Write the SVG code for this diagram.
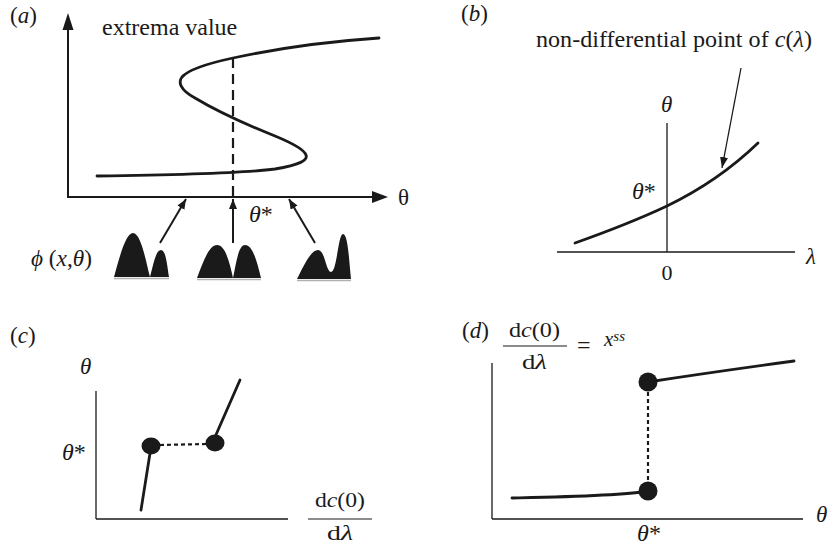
<svg xmlns="http://www.w3.org/2000/svg" width="835" height="546" viewBox="0 0 835 546">
<style>
text{font-family:"Liberation Serif","Times New Roman",serif;fill:#1a1a1a}
.t{font-size:23px}
.i{font-style:italic}
.ax{stroke:#1a1a1a;stroke-width:2;fill:none}
.thin{stroke:#1a1a1a;stroke-width:1.3;fill:none}
.crv{stroke:#1a1a1a;stroke-width:2.8;fill:none;stroke-linecap:round}
.dot{fill:#1a1a1a}
.dotted{stroke:#1a1a1a;stroke-width:2.2;stroke-dasharray:4 3;fill:none}
.peak{fill:#1a1a1a}
.shadow{stroke:#b0b0b0;stroke-width:1.5}
</style>
<defs>
<marker id="ah" markerUnits="userSpaceOnUse" markerWidth="12" markerHeight="10" refX="10" refY="4" orient="auto">
<path d="M0,0 L10,4 L0,8 Z" fill="#1a1a1a"/>
</marker>
<marker id="ahs" markerUnits="userSpaceOnUse" markerWidth="12" markerHeight="10" refX="11" refY="4" orient="auto">
<path d="M0,0 L11,4 L0,8 Z" fill="#1a1a1a"/>
</marker>
</defs>

<!-- Panel (a) -->
<g id="panel-a">
<text class="t" x="10" y="23">(<tspan class="i">a</tspan>)</text>
<line class="ax" x1="68" y1="197" x2="68" y2="28"/>
<path d="M68,13 L62.5,30 L73.5,30 Z" fill="#1a1a1a"/>
<line class="ax" x1="67" y1="197" x2="374" y2="197"/>
<path d="M388,197 L372,191 L372,203 Z" fill="#1a1a1a"/>
<text x="102" y="35" font-size="24">extrema value</text>
<text x="398" y="205" font-size="23">θ</text>
<path class="crv" d="M97,176 C170,175 245,173 275,169 C300,165 308,160 306,155 C304,149 292,143 275,136 C250,126 215,110 195,98 C180,90 178,82 182,77 C188,70 205,64 233,58 C270,50 320,42 379,38"/>
<line x1="233" y1="58" x2="233" y2="197" stroke="#1a1a1a" stroke-width="2.2" stroke-dasharray="10 6"/>
<text x="249" y="222" font-size="24"><tspan class="i">θ</tspan>*</text>
<text x="31" y="266" font-size="23" textLength="61" lengthAdjust="spacingAndGlyphs"><tspan class="i">ϕ</tspan> (<tspan class="i">x</tspan>,<tspan class="i">θ</tspan>)</text>
</g>

<g id="peak-left">
<path class="peak" d="M114,277 C120,255 126,233 133,233 C141,233 146,262 150,277 C154,262 156,250 161,250 C166,250 167,265 169,277 Z"/>
<line class="shadow" x1="114" y1="278.5" x2="169" y2="278.5"/>
</g>
<g id="peak-middle">
<path class="peak" d="M197,278 C203,262 209,245 217,245 C226,245 230,265 233,278 C236,265 238,245 245,245 C253,245 257,262 261,278 Z"/>
<line class="shadow" x1="197" y1="279.5" x2="261" y2="279.5"/>
</g>
<g id="peak-right">
<path class="peak" d="M297,279 C304,265 311,250 318,250 C325,250 326,272 331,272 C337,272 338,234 343,234 C348,234 349,260 351,279 Z"/>
<line class="shadow" x1="297" y1="280.5" x2="351" y2="280.5"/>
</g>

<g id="connectors-a">
<line x1="160" y1="243" x2="186" y2="199" stroke="#1a1a1a" stroke-width="2" marker-end="url(#ah)"/>
<line x1="233" y1="243" x2="233" y2="199" stroke="#1a1a1a" stroke-width="2" marker-end="url(#ah)"/>
<line x1="315" y1="243" x2="289" y2="199" stroke="#1a1a1a" stroke-width="2" marker-end="url(#ah)"/>
</g>

<!-- Panel (b) -->
<g id="panel-b">
<text class="t" x="461" y="21">(<tspan class="i">b</tspan>)</text>
<text x="536" y="47" font-size="23" textLength="276" lengthAdjust="spacingAndGlyphs">non-differential point of <tspan class="i">c</tspan>(<tspan class="i">λ</tspan>)</text>
<line class="thin" x1="667" y1="123" x2="667" y2="252"/>
<line class="thin" x1="557" y1="252" x2="795" y2="252"/>
<text class="i" x="661" y="112" font-size="23">θ</text>
<text x="632" y="199" font-size="24"><tspan class="i">θ</tspan>*</text>
<text class="i" x="806" y="264" font-size="23">λ</text>
<text x="667" y="280" font-size="22" text-anchor="middle">0</text>
<path class="crv" d="M575,243 C620,227 650,214 667,206 C700,190 730,170 758,143"/>
</g>
<g id="connector-b">
<line x1="741" y1="68" x2="722" y2="168" stroke="#1a1a1a" stroke-width="1.3" marker-end="url(#ahs)"/>
</g>

<!-- Panel (c) -->
<g id="panel-c">
<text class="t" x="10" y="343">(<tspan class="i">c</tspan>)</text>
<text class="i" x="80" y="374" font-size="23">θ</text>
<text x="62" y="460" font-size="24"><tspan class="i">θ</tspan>*</text>
<line class="thin" x1="96" y1="391" x2="96" y2="519"/>
<line class="thin" x1="96" y1="519" x2="288" y2="519"/>
<text x="315" y="507" font-size="21" textLength="50" lengthAdjust="spacingAndGlyphs">d<tspan class="i">c</tspan>(0)</text>
<line x1="308" y1="519" x2="372" y2="519" stroke="#1a1a1a" stroke-width="1.2"/>
<text x="327" y="540" font-size="21" textLength="26" lengthAdjust="spacingAndGlyphs">d<tspan class="i">λ</tspan></text>
<line class="crv" x1="141" y1="510" x2="151" y2="447"/>
<line class="crv" x1="215" y1="437" x2="240" y2="380"/>
<line class="dotted" x1="160" y1="445" x2="206" y2="444"/>
<ellipse class="dot" cx="151" cy="446" rx="9.5" ry="8.5"/>
<ellipse class="dot" cx="215" cy="443" rx="9.5" ry="8.5"/>
</g>

<!-- Panel (d) -->
<g id="panel-d">
<text class="t" x="462" y="338">(<tspan class="i">d</tspan>)</text>
<text x="509" y="337" font-size="21" textLength="51" lengthAdjust="spacingAndGlyphs">d<tspan class="i">c</tspan>(0)</text>
<line x1="503" y1="346" x2="567" y2="346" stroke="#1a1a1a" stroke-width="1.2"/>
<text x="522" y="369" font-size="21" textLength="25" lengthAdjust="spacingAndGlyphs">d<tspan class="i">λ</tspan></text>
<text x="577" y="353" font-size="24">=</text>
<text class="i" x="604" y="346" font-size="21">x<tspan font-size="15" dy="-5">ss</tspan></text>
<line class="thin" x1="492" y1="363" x2="492" y2="519"/>
<line class="thin" x1="492" y1="519" x2="803" y2="519"/>
<text class="i" x="816" y="522" font-size="23">θ</text>
<text x="649" y="541" font-size="24" text-anchor="middle"><tspan class="i">θ</tspan>*</text>
<path class="crv" d="M512,498 C560,497 620,496 648,491"/>
<path class="crv" d="M648,382 C700,374 750,367 794,361"/>
<line class="dotted" x1="648" y1="392" x2="648" y2="482"/>
<circle class="dot" cx="648" cy="382" r="9.5"/>
<circle class="dot" cx="648" cy="491" r="9.5"/>
</g>
</svg>
